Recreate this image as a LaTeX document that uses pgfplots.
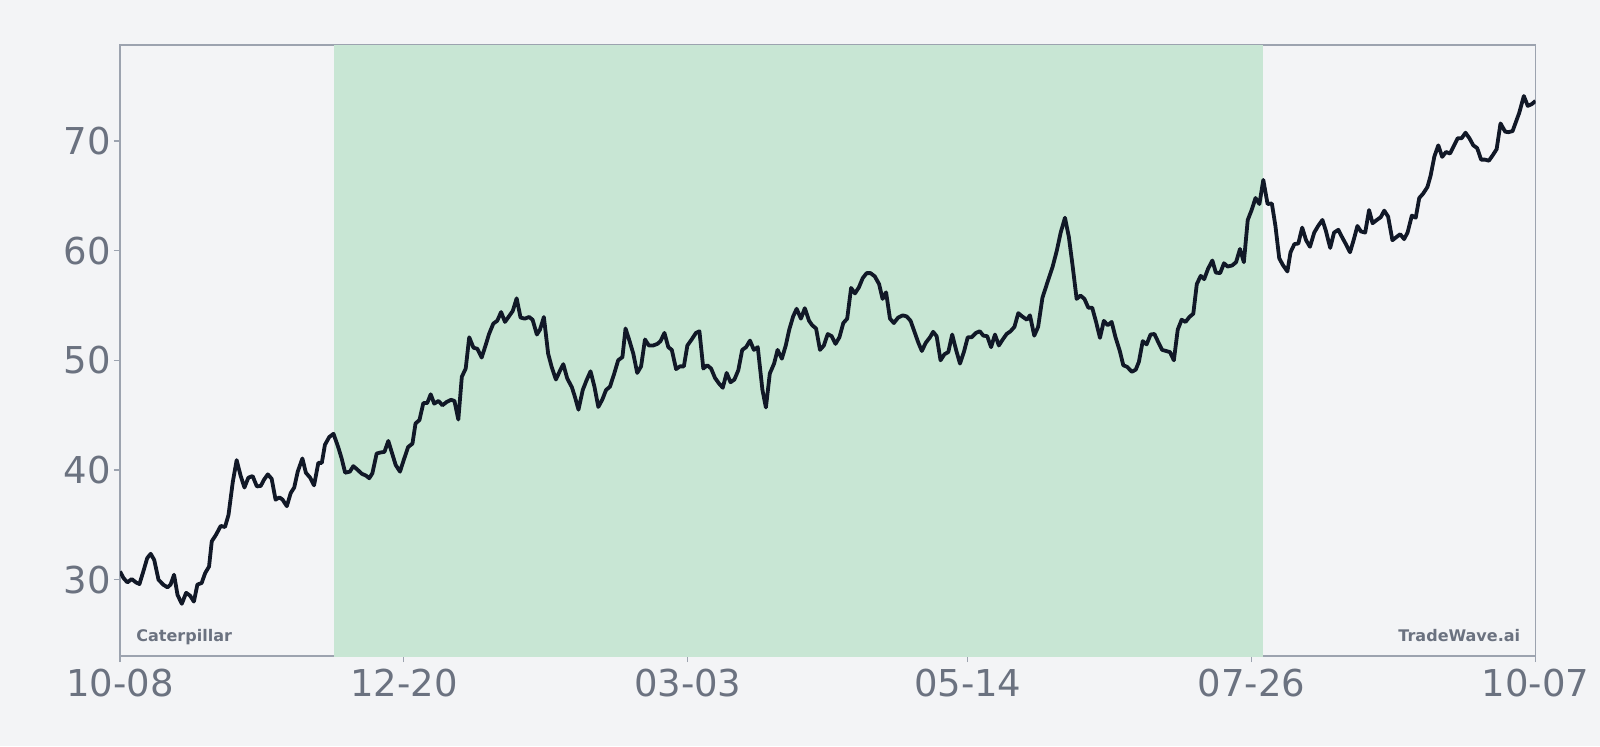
\documentclass[border=0pt]{standalone}
\usepackage{fontspec}
\setmainfont{DejaVu Sans}
\usepackage{pgfplots}
\pgfplotsset{compat=1.18}
\definecolor{bgcol}{HTML}{F3F4F6}
\definecolor{shadecol}{HTML}{C8E6D4}
\definecolor{linecol}{HTML}{111827}
\definecolor{spinecol}{HTML}{9CA3AF}
\definecolor{labcol}{HTML}{6B7280}
\begin{document}
\begin{tikzpicture}
\fill[bgcol] (-60pt,-45pt) rectangle (740pt,328pt);
\begin{axis}[
  scale only axis, width=707.75pt, height=305.5pt,
  xmin=0, xmax=364, ymin=23.04, ymax=78.75,
  axis line style={spinecol, line width=0.75pt},
  tick style={spinecol, line width=0.6pt},
  tick align=outside, major tick length=3pt,
  xtick={0,73,146,218,291,364},
  xticklabels={10-08,12-20,03-03,05-14,07-26,10-07},
  ytick={30,40,50,60,70},
  xtick pos=bottom, ytick pos=left,
  /pgf/number format/assume math mode=true,
  ticklabel style={font=\fontsize{18.5}{22}\selectfont, text=labcol, inner sep=0pt},
  xticklabel style={yshift=-3.5pt},
  yticklabel style={xshift=-1.5pt},
  clip=true,
]
\addplot[draw=none, fill=shadecol] coordinates {(55,0) (55,100) (294,100) (294,0)} -- cycle;
\addplot[linecol, line width=1.9pt, line join=round, mark=none] coordinates {
(0.0,30.75)(0.9,30.15)(1.9,29.75)(3.0,30.06)(4.1,29.75)(5.0,29.6)(6.0,30.75)(7.0,31.97)(7.9,32.36)(8.8,31.8)(9.9,30.0)(11.1,29.55)(12.2,29.3)(13.0,29.55)(13.9,30.45)(14.8,28.6)(15.9,27.8)(17.0,28.8)(18.0,28.55)(19.0,28.0)(19.9,29.55)(21.0,29.7)(21.9,30.6)(22.9,31.2)(23.6,33.5)(24.7,34.1)(25.9,34.9)(27.0,34.8)(27.9,35.9)(29.0,38.9)(30.0,40.9)(31.0,39.5)(32.0,38.4)(33.0,39.3)(34.1,39.45)(35.2,38.5)(36.2,38.55)(37.0,39.1)(38.0,39.6)(39.0,39.2)(40.0,37.3)(41.0,37.5)(41.8,37.3)(42.9,36.7)(43.9,37.9)(44.8,38.4)(45.7,39.85)(46.9,41.05)(47.8,39.75)(48.9,39.3)(49.9,38.6)(51.0,40.65)(51.9,40.65)(52.7,42.3)(53.8,43.0)(54.9,43.3)(56.1,42.1)(57.0,41.05)(57.9,39.75)(59.1,39.85)(60.0,40.35)(61.0,40.05)(62.2,39.65)(63.2,39.5)(64.1,39.25)(64.9,39.7)(66.0,41.5)(67.0,41.6)(68.0,41.65)(69.0,42.65)(69.9,41.6)(70.9,40.45)(72.0,39.85)(73.0,40.95)(74.1,42.1)(75.2,42.4)(76.0,44.25)(77.0,44.55)(78.0,46.1)(79.0,46.1)(79.9,46.9)(80.8,46.05)(81.9,46.3)(82.9,45.9)(84.0,46.2)(85.1,46.4)(86.0,46.3)(87.0,44.6)(87.9,48.5)(88.9,49.25)(89.8,52.1)(90.9,51.15)(91.9,51.05)(93.0,50.25)(94.0,51.35)(94.9,52.4)(96.0,53.35)(97.0,53.6)(98.0,54.4)(99.0,53.5)(100.0,54.0)(101.0,54.5)(102.0,55.65)(103.0,53.9)(104.1,53.8)(105.2,53.95)(106.1,53.7)(107.2,52.35)(108.0,52.8)(109.0,53.95)(110.1,50.6)(111.0,49.4)(112.1,48.25)(113.2,49.1)(114.0,49.65)(115.0,48.35)(116.2,47.55)(117.0,46.65)(117.9,45.5)(119.0,47.3)(120.0,48.2)(121.0,49.0)(122.0,47.6)(123.0,45.75)(124.0,46.4)(125.0,47.3)(126.0,47.6)(127.1,48.8)(128.1,50.0)(129.2,50.3)(130.0,52.9)(131.0,51.8)(132.0,50.6)(133.0,48.85)(134.0,49.45)(135.0,51.9)(136.0,51.35)(137.1,51.35)(138.2,51.5)(139.0,51.75)(140.0,52.5)(141.0,51.2)(141.9,50.95)(143.0,49.2)(144.0,49.45)(145.0,49.45)(145.9,51.35)(147.0,51.9)(148.1,52.5)(149.0,52.65)(150.0,49.25)(151.0,49.55)(152.0,49.25)(153.0,48.4)(154.0,47.9)(155.0,47.5)(156.0,48.85)(157.0,48.0)(158.0,48.25)(159.0,49.1)(160.0,50.95)(161.0,51.2)(162.0,51.8)(163.0,50.95)(164.0,51.2)(165.2,47.3)(166.1,45.7)(167.1,48.8)(168.2,49.7)(169.1,50.95)(170.2,50.15)(171.2,51.35)(172.1,52.8)(173.1,54.0)(174.0,54.7)(175.1,53.8)(176.1,54.75)(177.2,53.6)(178.0,53.2)(179.0,52.9)(180.0,50.95)(181.0,51.35)(182.0,52.4)(183.0,52.2)(184.0,51.5)(185.0,52.1)(186.0,53.4)(187.0,53.8)(188.0,56.6)(189.0,56.1)(190.0,56.65)(191.0,57.5)(192.0,57.95)(193.0,57.95)(194.1,57.65)(195.2,56.95)(196.1,55.6)(197.0,56.2)(198.0,53.8)(199.0,53.4)(200.1,53.9)(201.3,54.1)(202.3,54.0)(203.3,53.6)(204.3,52.6)(205.3,51.6)(206.2,50.85)(207.2,51.6)(208.3,52.1)(209.1,52.6)(210.0,52.2)(211.0,50.0)(212.0,50.55)(213.0,50.75)(214.0,52.35)(215.0,50.95)(216.0,49.7)(217.0,50.75)(218.0,52.1)(219.0,52.1)(220.1,52.5)(221.1,52.65)(222.0,52.25)(223.0,52.2)(224.0,51.2)(225.0,52.35)(226.0,51.35)(227.0,51.9)(228.0,52.4)(229.0,52.65)(230.0,53.05)(231.0,54.3)(232.0,54.0)(233.2,53.7)(234.0,54.1)(235.1,52.25)(236.1,53.05)(237.2,55.7)(238.3,56.9)(239.8,58.5)(240.9,60.0)(241.9,61.65)(243.0,63.0)(244.0,61.25)(244.9,58.8)(246.0,55.6)(247.0,55.9)(248.0,55.6)(249.0,54.8)(250.0,54.8)(251.0,53.5)(252.0,52.05)(253.0,53.6)(254.0,53.2)(255.0,53.5)(256.0,52.1)(257.1,50.85)(258.0,49.55)(259.0,49.4)(260.2,48.95)(261.2,49.15)(262.0,49.85)(263.0,51.75)(264.0,51.45)(265.0,52.35)(266.0,52.4)(267.0,51.65)(268.0,50.95)(269.0,50.85)(270.0,50.75)(271.0,50.0)(272.0,52.8)(273.0,53.7)(274.0,53.5)(275.0,53.95)(276.0,54.25)(276.9,56.95)(277.9,57.7)(278.8,57.4)(279.8,58.35)(280.9,59.1)(281.8,58.0)(282.9,57.95)(283.9,58.85)(284.8,58.55)(286.0,58.65)(287.0,58.95)(288.0,60.15)(289.0,58.95)(290.0,62.8)(291.0,63.7)(292.0,64.8)(293.0,64.25)(294.0,66.45)(295.1,64.25)(296.2,64.3)(297.1,62.3)(298.1,59.3)(299.1,58.65)(300.2,58.1)(301.0,59.85)(302.0,60.6)(303.0,60.65)(304.0,62.1)(305.0,60.95)(306.0,60.35)(307.1,61.65)(308.1,62.25)(309.2,62.8)(310.1,61.8)(311.2,60.25)(312.2,61.65)(313.3,61.9)(314.3,61.2)(315.3,60.55)(316.3,59.85)(317.3,61.05)(318.2,62.25)(319.1,61.75)(320.2,61.65)(321.2,63.7)(322.1,62.5)(323.2,62.8)(324.2,63.05)(325.1,63.65)(326.1,63.1)(327.2,60.95)(328.1,61.2)(329.2,61.5)(330.2,61.05)(331.1,61.65)(332.2,63.2)(333.2,63.0)(334.1,64.8)(335.1,65.2)(336.2,65.8)(337.0,66.8)(338.0,68.6)(339.0,69.6)(340.0,68.55)(341.0,69.0)(342.0,68.85)(343.0,69.55)(344.0,70.25)(345.0,70.25)(346.0,70.75)(347.0,70.25)(348.0,69.6)(349.0,69.35)(350.0,68.3)(351.0,68.3)(352.0,68.2)(353.0,68.7)(354.0,69.25)(355.0,71.6)(356.2,70.85)(357.0,70.8)(358.1,70.9)(359.8,72.55)(361.0,74.1)(362.0,73.2)(363.0,73.35)(364.0,73.65)
};
\node[anchor=base west, inner sep=0pt, text=labcol, font=\fontsize{8}{10}\selectfont\bfseries] at (rel axis cs:0.0113,0.0245) {Caterpillar};
\node[anchor=base east, inner sep=0pt, text=labcol, font=\fontsize{8}{10}\selectfont\bfseries] at (rel axis cs:0.9894,0.0245) {TradeWave.ai};
\end{axis}
\pgfresetboundingbox
\path[use as bounding box] (-60pt,-45pt) rectangle (740pt,328pt);
\end{tikzpicture}
\end{document}
